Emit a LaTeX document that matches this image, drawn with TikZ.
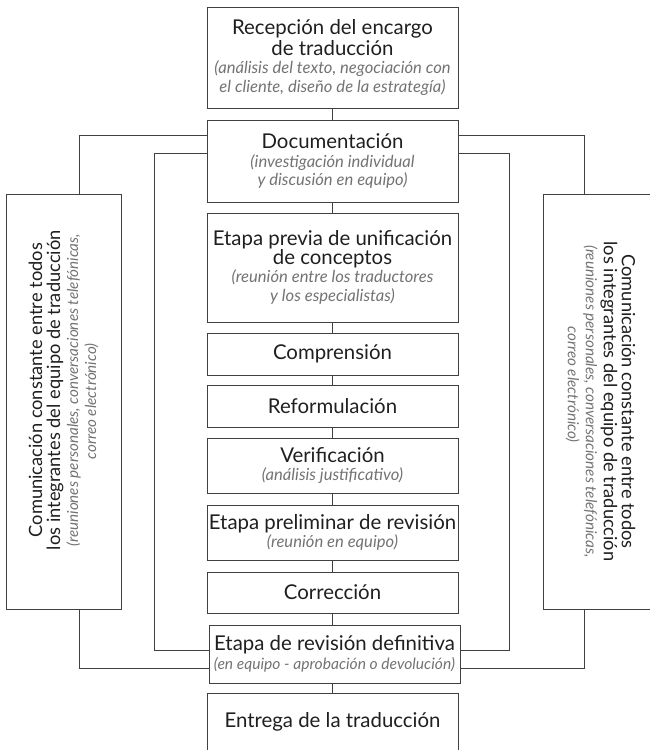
\documentclass[tikz,border=0pt]{standalone}
\usepackage{fontspec}
\setmainfont{Lato}
\usepackage{xcolor}
\usetikzlibrary{calc}

\definecolor{linea}{gray}{0.25}
\definecolor{texto}{gray}{0.12}
\definecolor{gris}{gray}{0.45}
\newcommand{\nota}[2][11.8]{{\fontsize{#1}{12.3}\selectfont\itshape\color{gris}#2}}

\begin{document}
\begin{tikzpicture}[x=0.025cm, y=-0.025cm,
  every node/.style={inner sep=0pt, align=center, text=texto},
  paso/.style={draw=linea, line width=0.6pt, minimum width=6.275cm, font=\fontsize{14.5}{13.2}\selectfont},
  lado/.style={draw=linea, line width=0.6pt, minimum width=10.375cm, minimum height=2.875cm, font=\fontsize{13}{12.8}\selectfont},
  enlace/.style={draw=linea, line width=0.6pt}]

\useasboundingbox (0,0) rectangle (650,750);
\clip (0,0) rectangle (650,750);

\node[paso, minimum height=2.525cm] (recepcion) at (332.5,57.5) {Recepción del encargo\\de traducción\\\nota{(análisis del texto, negociación con}\\\nota{el cliente, diseño de la estrategía)}};
\node[paso, minimum height=2.05cm] (documentacion) at (332.5,161) {Documentación\\\nota{(investigación individual}\\\nota{y discusión en equipo)}};
\node[paso, minimum height=2.725cm] (unificacion) at (332.5,267.5) {Etapa previa de unificación\\de conceptos\\\nota{(reunión entre los traductores}\\\nota{y los especialistas)}};
\node[paso, minimum height=1.05cm] (comprension) at (332.5,354) {Comprensión};
\node[paso, minimum height=1.05cm] (reformulacion) at (332.5,406) {Reformulación};
\node[paso, minimum height=1.375cm] (verificacion) at (332.5,465.5) {Verificación\\\nota{(análisis justificativo)}};
\node[paso, minimum height=1.375cm] (preliminar) at (332.5,532.5) {Etapa preliminar de revisión\\\nota{(reunión en equipo)}};
\node[paso, minimum height=1.025cm] (correccion) at (332.5,592.5) {Corrección};
\node[paso, minimum height=1.45cm] (definitiva) at (334.5,654) {Etapa de revisión definitiva\\\nota[11.1]{(en equipo - aprobación o devolución)}};
\node[paso, minimum height=1.75cm, anchor=north, text height=9.5pt, text depth=10.4pt] (entrega) at (332.5,693) {Entrega de la traducción};

% comunicacion del equipo, a los dos lados
\node[lado, rotate=90] (comIzq) at (63.5,401.5) {\hspace*{16pt}Comunicación constante entre todos\\\hspace*{16pt}los integrantes del equipo de traducción\\\hspace*{16pt}\nota[10.8]{(reuniones personales, conversaciones telefónicas,}\\\nota[10.8]{correo electrónico)}};
\node[lado, rotate=-90] (comDer) at (600.5,401.5) {Comunicación constante entre todos\\los integrantes del equipo de traducción\\\nota[10.8]{(reuniones personales, conversaciones telefónicas,}\\\nota[10.8]{correo electrónico)}\hspace*{24pt}};

\draw[enlace] (recepcion) -- (documentacion) (documentacion) -- (unificacion) (unificacion) -- (comprension) (comprension) -- (reformulacion) (reformulacion) -- (verificacion) (verificacion) -- (preliminar) (preliminar) -- (correccion);
\draw[enlace] (correccion.south) -- (correccion.south |- definitiva.north);
\draw[enlace] (entrega.north |- definitiva.south) -- (entrega.north);

\draw[enlace] ($(documentacion.west)+(0,-26)$) -| ($(comIzq.east)+(16,0)$);
\draw[enlace] ($(documentacion.east)+(0,-26)$) -| ($(comDer.west)+(-16,0)$);
\draw[enlace] ($(documentacion.west)+(0,-8)$) -| ($(definitiva.west)+(-54,-4)$) -- ($(definitiva.west)+(0,-4)$);
\draw[enlace] ($(documentacion.east)+(0,-8)$) -| ($(definitiva.east)+(49,-4)$) -- ($(definitiva.east)+(0,-4)$);
\draw[enlace] ($(comIzq.west)+(16,0)$) |- ($(definitiva.west)+(0,14)$);
\draw[enlace] ($(comDer.east)+(-16,0)$) |- ($(definitiva.east)+(0,14)$);
\end{tikzpicture}
\end{document}
